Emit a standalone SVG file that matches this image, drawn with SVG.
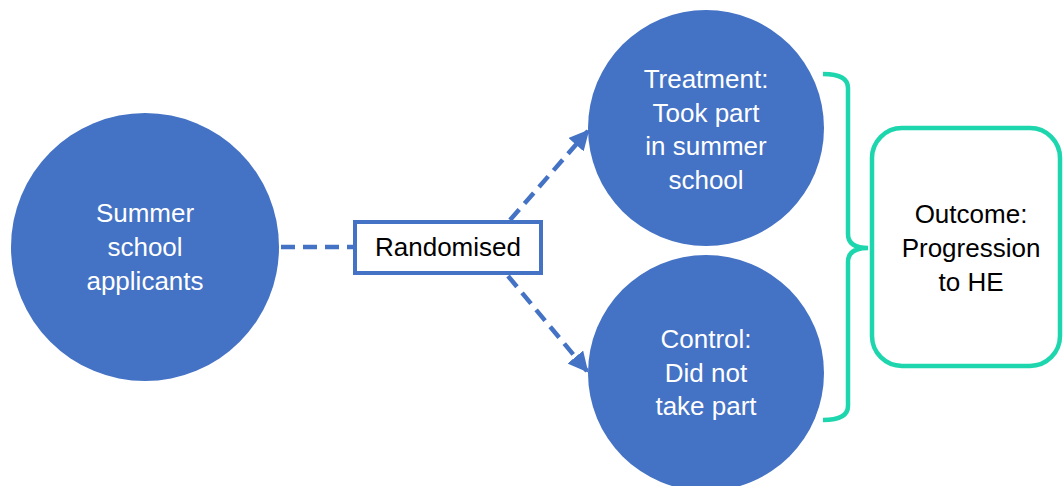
<svg xmlns="http://www.w3.org/2000/svg" width="1064" height="486" viewBox="0 0 1064 486">
<style>
.node{fill:#4472C4}
.wt{font-family:"Liberation Sans",Arial,sans-serif;font-size:26px;fill:#ffffff;text-anchor:middle}
.bt{font-family:"Liberation Sans",Arial,sans-serif;font-size:26px;fill:#000000;text-anchor:middle}
.dash{stroke:#4472C4;stroke-width:4.5;stroke-dasharray:14 8;fill:none}
</style>
<defs>
<marker id="ah" viewBox="0 0 10 10" refX="9" refY="5" markerWidth="4.5" markerHeight="4.5" orient="auto" markerUnits="strokeWidth">
<path d="M0,0 L10,5 L0,10 z" fill="#4472C4"/>
</marker>
</defs>
<rect width="1064" height="486" fill="#ffffff"/>
<g id="connectors">
<line class="dash" x1="281" y1="247" x2="353" y2="247"/>
<line class="dash" x1="510" y1="220" x2="588" y2="131" marker-end="url(#ah)"/>
<line class="dash" x1="508" y1="276" x2="587" y2="371" marker-end="url(#ah)"/>
<path d="M823,74 Q848,74 848,88 L848,234 Q848,248 868,248 Q848,248 848,262 L848,406 Q848,420 823,420" fill="none" stroke="#1DD6AE" stroke-width="4.5"/>
</g>
<g id="applicants">
<circle class="node" cx="145" cy="247" r="134"/>
<text class="wt" x="145" y="222">Summer</text>
<text class="wt" x="145" y="256">school</text>
<text class="wt" x="145" y="290">applicants</text>
</g>
<g id="randomised">
<rect x="355" y="222" width="186" height="51" fill="#ffffff" stroke="#4472C4" stroke-width="4"/>
<text class="bt" x="448" y="256">Randomised</text>
</g>
<g id="treatment">
<circle class="node" cx="706" cy="128" r="118"/>
<text class="wt" x="706" y="88">Treatment:</text>
<text class="wt" x="706" y="122">Took part</text>
<text class="wt" x="706" y="155">in summer</text>
<text class="wt" x="706" y="189">school</text>
</g>
<g id="control">
<circle class="node" cx="706" cy="373" r="118"/>
<text class="wt" x="706" y="348">Control:</text>
<text class="wt" x="706" y="382">Did not</text>
<text class="wt" x="706" y="415">take part</text>
</g>
<g id="outcome">
<rect x="872" y="128" width="188" height="238" rx="30" ry="30" fill="#ffffff" stroke="#1DD6AE" stroke-width="4.5"/>
<text class="bt" x="971" y="223">Outcome:</text>
<text class="bt" x="971" y="257">Progression</text>
<text class="bt" x="971" y="291">to HE</text>
</g>
</svg>
